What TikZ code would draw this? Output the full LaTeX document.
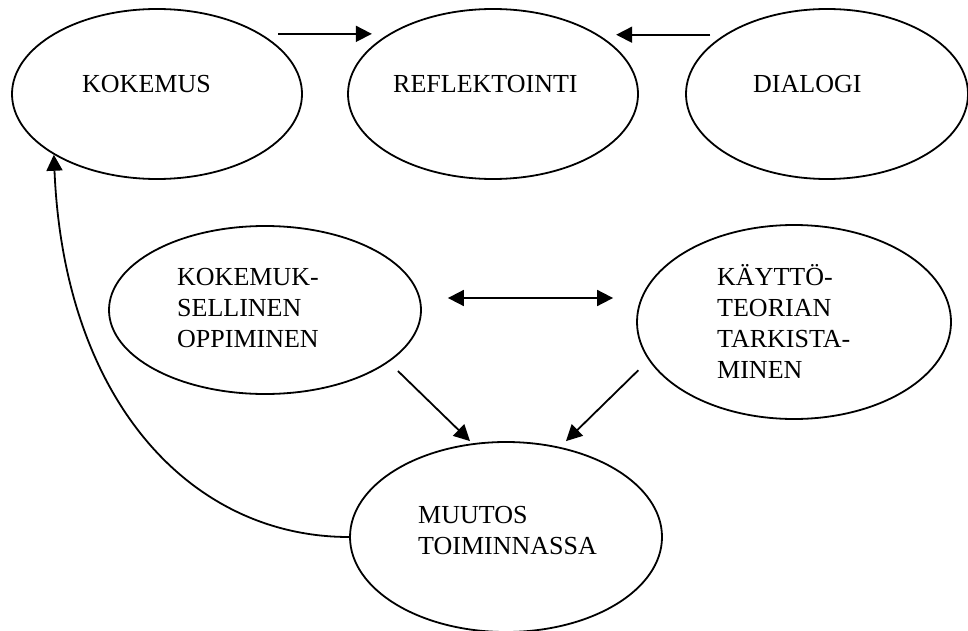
\documentclass[tikz,border=0pt]{standalone}
\usepackage{fontspec}
\setmainfont{Liberation Serif}
\usetikzlibrary{shapes.geometric,arrows.meta}
\begin{document}
\begin{tikzpicture}[x=1pt,y=-1pt,
  oval/.style={draw, ellipse, line width=1.8pt, inner sep=0pt},
  lbl/.style={anchor=base west, inner sep=0pt, font=\fontsize{26}{31}\selectfont},
  arr/.style={line width=1.8pt, -{Triangle[length=16pt,width=16pt]}},
  darr/.style={line width=1.8pt, {Triangle[length=16pt,width=16pt]}-{Triangle[length=16pt,width=16pt]}}]
\useasboundingbox (0,0) rectangle (968,631);
% ellipses
\node[oval, minimum width=290pt, minimum height=170pt] (kok) at (157,94) {};
\node[oval, minimum width=290pt, minimum height=170pt] (refl) at (493,94) {};
\node[oval, minimum width=282pt, minimum height=170pt] (dial) at (827,94) {};
\node[oval, minimum width=312pt, minimum height=168pt] (kol) at (265,310) {};
\node[oval, minimum width=314pt, minimum height=194pt] (kay) at (794,322) {};
\node[oval, minimum width=312pt, minimum height=190pt] (muu) at (506,537) {};
% texts
\node[lbl] (tkok) at (82,93) {KOKEMUS};
\node[lbl] (trefl) at (393,93) {REFLEKTOINTI};
\node[lbl] (tdial) at (753,93) {DIALOGI};
\node[lbl] (tkol) at (177,285) {\begin{tabular}[t]{@{}l@{}}KOKEMUK-\\SELLINEN\\OPPIMINEN\end{tabular}};
\node[lbl] (tkay) at (717,285) {\begin{tabular}[t]{@{}l@{}}KÄYTTÖ-\\TEORIAN\\TARKISTA-\\MINEN\end{tabular}};
\node[lbl] (tmuu) at (418,523) {\begin{tabular}[t]{@{}l@{}}MUUTOS\\TOIMINNASSA\end{tabular}};
% connectors
\draw[arr, shorten <=17pt, shorten >=17pt] (kok.30) -- (refl.150);
\draw[arr, shorten <=14pt, shorten >=19pt] (dial.150) -- (dial.150 -| refl.30);
\draw[darr] ([shift={(26,-12)}]kol.east) -- ([shift={(-23,-24)}]kay.west);
\draw[arr] ([shift={(22,1)}]kol.south east) -- ([shift={(-36,0)}]muu.north);
\draw[arr] ([shift={(-44,-21)}]kay.south west) -- ([shift={(60,0)}]muu.north);
\draw[arr] (muu.west) .. controls (190,537) and (64,400) .. (kok.south west);
\end{tikzpicture}
\end{document}
